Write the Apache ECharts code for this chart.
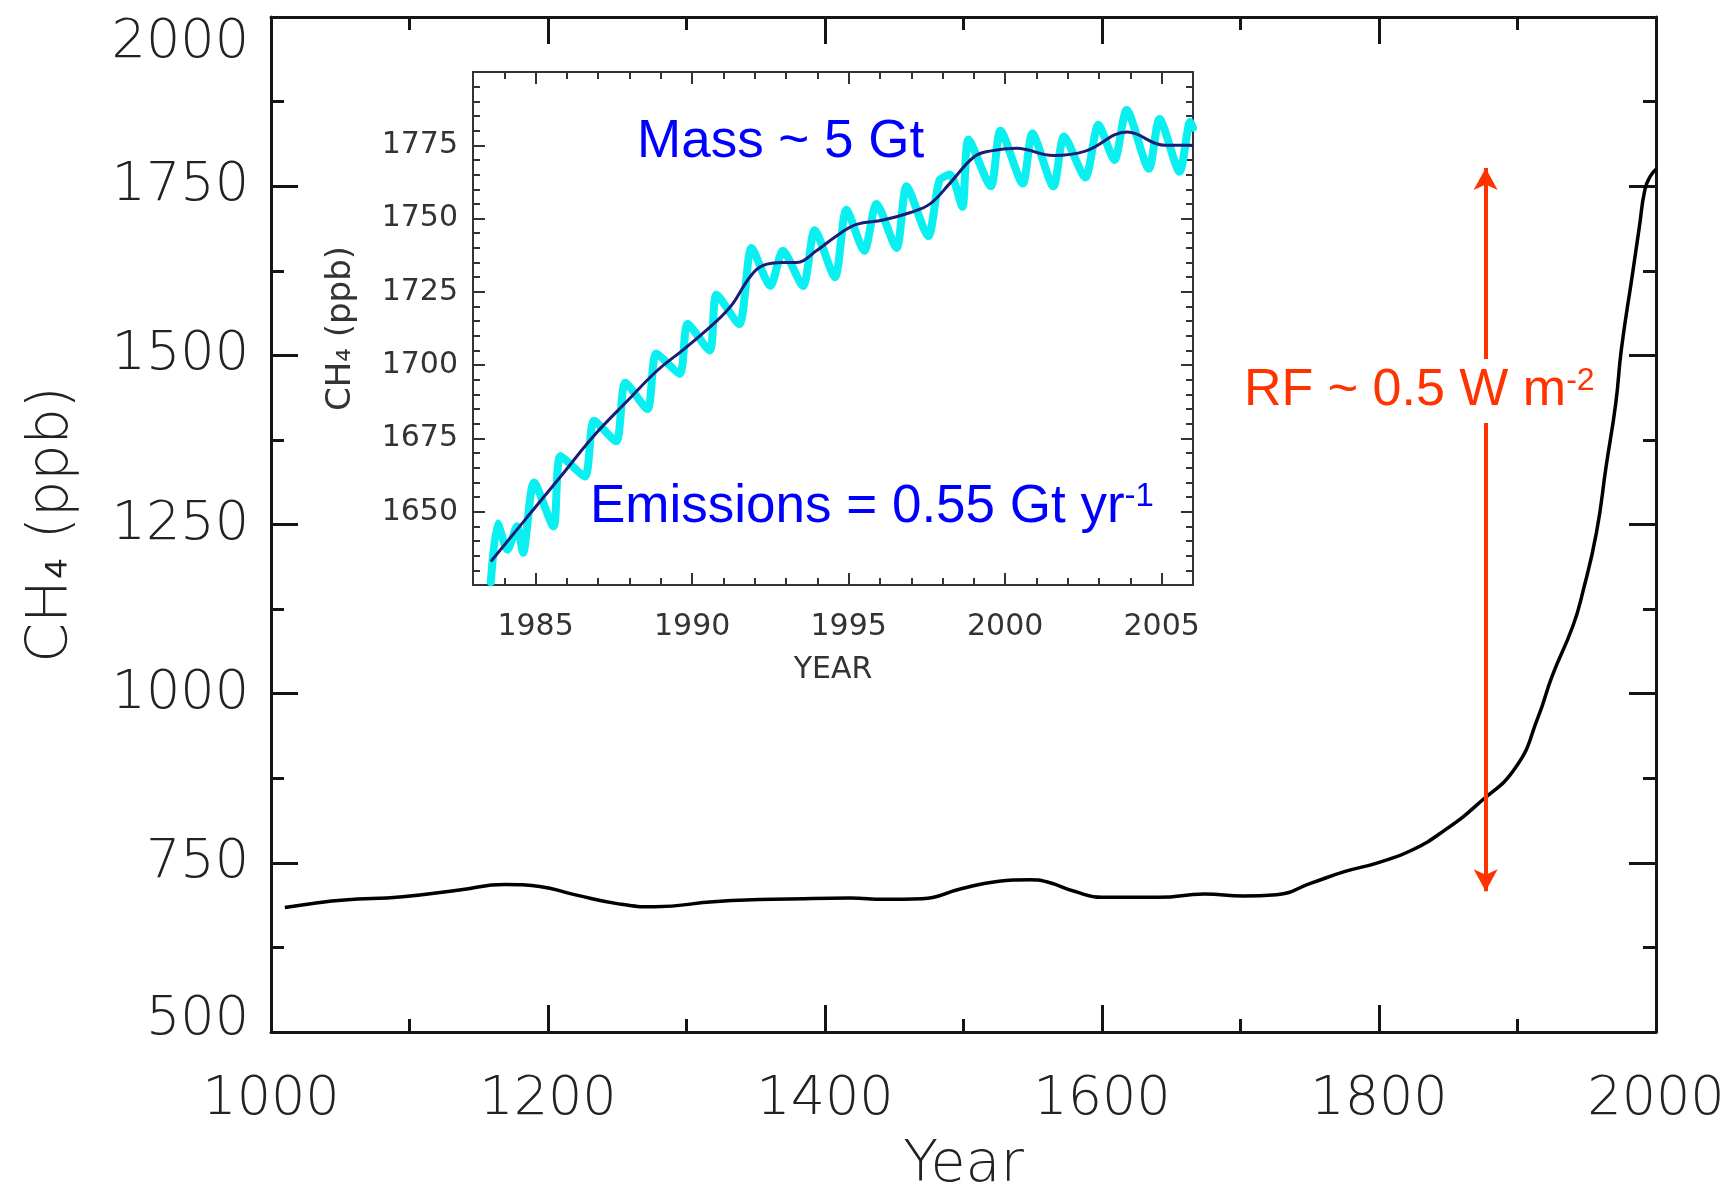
<!DOCTYPE html>
<html>
<head>
<meta charset="utf-8">
<script src="https://cdn.jsdelivr.net/npm/echarts@6/dist/echarts.min.js"></script>
<style>
html,body{margin:0;padding:0;background:#fff;}
#c{width:1731px;height:1191px;}
</style>
</head>
<body>
<div id="c"></div>
<script>
// ---- Main panel: CH4 over the last millennium ----
const mainYears  = [1010, 1030, 1053, 1095, 1136, 1169, 1194, 1219, 1252, 1277, 1322, 1385, 1418, 1443, 1470, 1499, 1523, 1548, 1560, 1580, 1600, 1641, 1674, 1702, 1726, 1751, 1775, 1799, 1824, 1848, 1872, 1899, 1915, 1925, 1940, 1947, 1957, 1964, 1971, 1975, 1983, 1988, 1992, 1996, 2000];
const mainValues = [684, 690, 695, 700, 710, 718, 715, 703, 689, 685, 693, 697, 698, 696, 697, 712, 722, 725, 722, 708, 699, 699, 704, 701, 703, 720, 737, 750, 769, 799, 838, 892, 966, 1026, 1100, 1149, 1238, 1336, 1430, 1509, 1620, 1690, 1745, 1765, 1775];
const mainXTicks = [1000, 1200, 1400, 1600, 1800, 2000];
const mainYTicks = [500, 750, 1000, 1250, 1500, 1750, 2000];

// RF arrow: from pre-industrial level to present level
const arrowYear = 1877;
const arrowRange = [708, 1777];

// ---- Inset: 1983-2006 record ----
const insetMeasYears  = [1983.57, 1983.79, 1984.1, 1984.41, 1984.6, 1984.95, 1985.57, 1985.8, 1986.57, 1986.87, 1987.57, 1987.87, 1988.57, 1988.86, 1989.6, 1989.86, 1990.56, 1990.78, 1991.5, 1991.9, 1992.5, 1992.9, 1993.54, 1993.92, 1994.56, 1994.93, 1995.5, 1995.89, 1996.53, 1996.85, 1997.54, 1997.9, 1998.24, 1998.63, 1998.83, 1999.54, 1999.85, 2000.56, 2000.87, 2001.54, 2001.88, 2002.56, 2002.98, 2003.49, 2003.88, 2004.59, 2004.93, 2005.57, 2005.91, 2006.0];
const insetMeasValues = [1626, 1646, 1637, 1645, 1636, 1660, 1645, 1669, 1662, 1681, 1674, 1694, 1685, 1704, 1697, 1714, 1705, 1724, 1714, 1740, 1727, 1739, 1727, 1746, 1730, 1753, 1739, 1755, 1740, 1761, 1744, 1763, 1765, 1754, 1777, 1761, 1780, 1762, 1779, 1761, 1778, 1764, 1782, 1770, 1787, 1767, 1784, 1766, 1783, 1781];
const insetTrendYears  = [1983.57, 1984.72, 1985.8, 1986.87, 1987.95, 1988.87, 1989.8, 1990.78, 1991.3, 1991.84, 1992.27, 1992.9, 1993.33, 1993.97, 1994.6, 1995.25, 1996.1, 1996.95, 1997.6, 1998.23, 1999.0, 1999.5, 2000.36, 2001.54, 2002.56, 2003.9, 2005.1, 2006.0];
const insetTrendValues = [1633, 1648, 1662, 1676, 1688, 1698, 1706, 1715, 1721, 1730, 1734, 1735, 1735, 1739, 1744, 1748, 1749.5, 1752, 1755, 1762, 1771, 1773, 1774, 1771.5, 1773, 1779.5, 1775, 1775];
const insetMajorYears = [1985, 1990, 1995, 2000, 2005];
const insetMinorYears = [1984, 1985, 1986, 1987, 1988, 1989, 1990, 1991, 1992, 1993, 1994, 1995, 1996, 1997, 1998, 1999, 2000, 2001, 2002, 2003, 2004, 2005, 2006];
const insetYTicks = [1650, 1675, 1700, 1725, 1750, 1775];

// ---- Text ----
const mainXName = 'Year';
const mainYName = 'CH\u2084 (ppb)';
const insetXName = 'YEAR';
const insetYName = 'CH\u2084 (ppb)';
const massText = 'Mass ~ 5 Gt';
const emisText = 'Emissions = 0.55 Gt yr';
const emisSup = '-1';
const rfText = 'RF ~ 0.5 W m';
const rfSup = '-2';

const zip = (xs, ys) => xs.map((x, i) => [x, ys[i]]);

const mainFont = "'DejaVu Sans', sans-serif";
const annFont = "'Liberation Sans', Arial, sans-serif";
const ink = '#151515';
const insetInk = '#333';
const mainLabelStyle = { fontSize: 54, color: '#222', fontFamily: mainFont, fontWeight: 200 };
const mainNameStyle = { fontSize: 57, color: '#222', fontFamily: mainFont, fontWeight: 200 };

function mainX(pos, labels) {
  return {
    type: 'value', gridIndex: 0, position: pos,
    min: mainXTicks[0], max: mainXTicks[mainXTicks.length - 1], interval: mainXTicks[1] - mainXTicks[0],
    axisLine: { show: true, onZero: false, lineStyle: { color: ink, width: 3 } },
    axisTick: { show: true, inside: true, length: 27, lineStyle: { color: ink, width: 3 } },
    minorTick: { show: true, splitNumber: 2, length: 13, lineStyle: { color: ink, width: 3 } },
    splitLine: { show: false }, minorSplitLine: { show: false },
    axisLabel: labels ? Object.assign({ show: true, margin: 41, formatter: v => String(v) }, mainLabelStyle) : { show: false },
    name: labels ? mainXName : '', nameLocation: 'middle', nameGap: 106,
    nameTextStyle: mainNameStyle
  };
}
function mainY(pos, labels) {
  const lo = mainYTicks[0], hi = mainYTicks[mainYTicks.length - 1];
  return {
    type: 'value', gridIndex: 0, position: pos,
    min: lo, max: hi, interval: mainYTicks[1] - mainYTicks[0],
    axisLine: { show: true, onZero: false, lineStyle: { color: ink, width: 3 } },
    axisTick: { show: true, inside: true, length: 27, lineStyle: { color: ink, width: 3 } },
    minorTick: { show: true, splitNumber: 2, length: 13, lineStyle: { color: ink, width: 3 } },
    splitLine: { show: false }, minorSplitLine: { show: false },
    axisLabel: labels ? Object.assign({
      show: true, margin: 22,
      formatter: v => v === lo ? '{lo|' + v + '}' : (v === hi ? '{hi|' + v + '}' : String(v)),
      rich: {
        lo: Object.assign({ padding: [0, 0, 24, 0] }, mainLabelStyle),
        hi: Object.assign({ padding: [51, 0, 0, 0] }, mainLabelStyle)
      }
    }, mainLabelStyle) : { show: false },
    name: labels ? mainYName : '', nameLocation: 'middle', nameGap: 190, nameRotate: 90,
    nameTextStyle: mainNameStyle
  };
}
function insetX(pos, major, labels) {
  return {
    type: 'value', gridIndex: 1, position: pos,
    min: 1983, max: 2006,
    axisLine: { show: major, onZero: false, lineStyle: { color: insetInk, width: 2 } },
    axisTick: { show: true, inside: true, length: major ? 12 : 7,
      customValues: major ? insetMajorYears : insetMinorYears,
      lineStyle: { color: insetInk, width: 2 } },
    splitLine: { show: false },
    axisLabel: labels ? { show: true, customValues: insetMajorYears, formatter: v => String(v), margin: 27, fontSize: 30, color: '#333', fontFamily: mainFont }
                      : { show: false, customValues: major ? insetMajorYears : insetMinorYears },
    name: labels ? insetXName : '', nameLocation: 'middle', nameGap: 70,
    nameTextStyle: { fontSize: 30, color: '#333', fontFamily: mainFont }
  };
}
function insetY(pos, labels) {
  return {
    type: 'value', gridIndex: 1, position: pos,
    min: 1625, max: 1800, interval: insetYTicks[1] - insetYTicks[0],
    axisLine: { show: true, onZero: false, lineStyle: { color: insetInk, width: 2 } },
    axisTick: { show: true, inside: true, length: 12, lineStyle: { color: insetInk, width: 2 } },
    minorTick: { show: true, splitNumber: 5, length: 7, lineStyle: { color: insetInk, width: 2 } },
    splitLine: { show: false }, minorSplitLine: { show: false },
    axisLabel: labels ? { show: true, showMinLabel: false, showMaxLabel: false, formatter: v => String(v), margin: 15, fontSize: 30, color: '#333', fontFamily: mainFont } : { show: false },
    name: labels ? insetYName : '', nameLocation: 'middle', nameGap: 115, nameRotate: 90,
    nameTextStyle: { fontSize: 34, color: '#333', fontFamily: mainFont }
  };
}

const chart = echarts.init(document.getElementById('c'), null, { renderer: 'canvas' });
chart.setOption({
  backgroundColor: '#ffffff',
  animation: false,
  grid: [
    { left: 271, top: 17, width: 1385, height: 1015, show: true, backgroundColor: '#fff', borderWidth: 0, containLabel: false, outerBoundsMode: 'none' },
    { left: 473, top: 72, width: 720, height: 513, show: true, backgroundColor: '#fff', borderWidth: 0, containLabel: false, outerBoundsMode: 'none' }
  ],
  xAxis: [
    mainX('bottom', true), mainX('top', false),
    insetX('bottom', true, true), insetX('bottom', false, false),
    insetX('top', true, false), insetX('top', false, false)
  ],
  yAxis: [
    mainY('left', true), mainY('right', false),
    insetY('left', true), insetY('right', false)
  ],
  series: [
    {
      type: 'line', xAxisIndex: 0, yAxisIndex: 0,
      data: zip(mainYears, mainValues),
      smooth: 0.5, showSymbol: false, silent: true,
      lineStyle: { color: '#000', width: 3.5 },
      markLine: {
        silent: true, symbol: ['arrow', 'arrow'], symbolSize: [18, 22],
        label: { show: false },
        lineStyle: { color: '#ff3300', width: 4, type: 'solid' },
        data: [[{ coord: [arrowYear, arrowRange[0]] }, { coord: [arrowYear, arrowRange[1]] }]]
      }
    },
    {
      type: 'line', xAxisIndex: 2, yAxisIndex: 2,
      data: zip(insetMeasYears, insetMeasValues),
      smooth: 0.25, showSymbol: false, silent: true,
      lineStyle: { color: '#0af0f0', width: 8, join: 'round', cap: 'round' }
    },
    {
      type: 'line', xAxisIndex: 2, yAxisIndex: 2,
      data: zip(insetTrendYears, insetTrendValues),
      smooth: 0.4, showSymbol: false, silent: true,
      lineStyle: { color: '#1c1c78', width: 3 }
    }
  ],
  graphic: [
    { type: 'text', x: 637, y: 142, z: 100,
      style: { text: massText, fill: '#0000ff', fontSize: 53, fontFamily: annFont, verticalAlign: 'middle', align: 'left' } },
    { type: 'text', x: 590, y: 507, z: 100,
      style: { text: '{a|' + emisText + '}{s|' + emisSup + '}', verticalAlign: 'middle', align: 'left',
        rich: { a: { fill: '#0000ff', fontSize: 53, fontFamily: annFont },
                s: { fill: '#0000ff', fontSize: 33, fontFamily: annFont, verticalAlign: 'top' } } } },
    { type: 'text', x: 1240, y: 391, z: 100,
      style: { text: '{a|' + rfText + '}{s|' + rfSup + '}', verticalAlign: 'middle', align: 'left',
        backgroundColor: '#ffffff', padding: [6, 4],
        rich: { a: { fill: '#ff3300', fontSize: 52, fontFamily: annFont },
                s: { fill: '#ff3300', fontSize: 32, fontFamily: annFont, verticalAlign: 'top' } } } }
  ]
});
</script>
</body>
</html>
